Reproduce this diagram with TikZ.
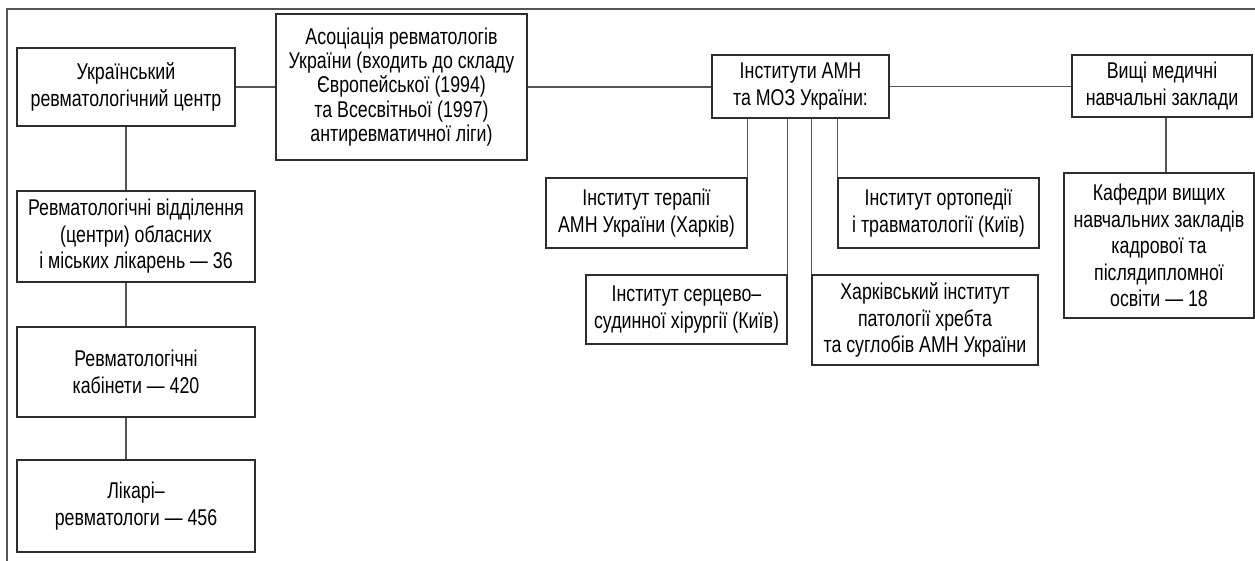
\documentclass[tikz,border=0pt]{standalone}
\usepackage{fontspec}
\setmainfont[FakeStretch=0.78]{Liberation Sans}
\usepackage{tikz}
\usetikzlibrary{calc}
\definecolor{BoxLine}{RGB}{45,45,45}
\definecolor{LinkGray}{RGB}{85,85,85}

\begin{document}
\begin{tikzpicture}[x=0.5pt, y=-0.5pt,
		box/.style={draw=BoxLine, line width=0.65pt, align=center, inner sep=0pt,
			font=\fontsize{11.4}{13.2}\selectfont},
		link/.style={draw=LinkGray, line width=0.6pt}]
		\useasboundingbox (0,0) rectangle (1255,561);
		\draw[LinkGray, line width=0.7pt] (1255,9) -- (7,9) -- (7,561);
		
		% top row
		\node[box, minimum width=109pt, minimum height=39pt] (ukr) at (126,87)
			{Український\\ревматологічний центр};
		\node[box, minimum width=125.5pt, minimum height=73pt,
			font=\fontsize{11.4}{12.2}\selectfont] (assoc) at (401.5,87)
			{Асоціація ревматологів\\України (входить до складу\\Європейської (1994)\\та Всесвітньої (1997)\\антиревматичної ліги)};
		\node[box, minimum width=88.5pt, minimum height=31.5pt] (inst) at (800.5,86.5)
			{Інститути АМН\\та МОЗ України:};
		\node[box, minimum width=90pt, minimum height=31pt] (vuz) at (1162,86)
			{Вищі медичні\\навчальні заклади};
		
		% left column
		\node[box, minimum width=119pt, minimum height=45.5pt] (viddil) at (136,236.5)
			{Ревматологічні відділення\\(центри) обласних\\і міських лікарень — 36};
		\node[box, minimum width=119pt, minimum height=45pt] (kabinet) at (136,372)
			{Ревматологічні\\кабінети — 420};
		\node[box, minimum width=119pt, minimum height=46pt] (likar) at (136,506)
			{Лікарі–\\ревматологи — 456};
		
		% institutes
		\node[box, minimum width=100.5pt, minimum height=35pt] (terap) at (646.5,213)
			{Інститут терапії\\АМН України (Харків)};
		\node[box, minimum width=100.5pt, minimum height=34.5pt] (serts) at (686.5,309.5)
			{Інститут серцево–\\судинної хірургії (Київ)};
		\node[box, minimum width=100.5pt, minimum height=35pt] (ortop) at (938.5,213)
			{Інститут ортопедії\\і травматології (Київ)};
		\node[box, minimum width=113pt, minimum height=45pt] (khark) at (925,320)
			{Харківський інститут\\патології хребта\\та суглобів АМН України};
		
		\node[box, minimum width=95pt, minimum height=72.5pt] (kafedr) at (1159,245.5)
			{Кафедри вищих\\навчальних закладів\\кадрової та\\післядипломної\\освіти — 18};
		
		% connectors
		\draw[link] (ukr.east) -- (ukr.east -| assoc.west);
		\draw[link] (assoc.east) -- (assoc.east -| inst.west);
		\draw[link] (inst.east) -- (inst.east -| vuz.west);
		\draw[link] (ukr.south) -- (ukr.south |- viddil.north);
		\draw[link] (ukr.south |- viddil.south) -- (ukr.south |- kabinet.north);
		\draw[link] (ukr.south |- kabinet.south) -- (ukr.south |- likar.north);
		\draw[link] (inst.south -| terap.east) -- (terap.north east);
		\draw[link] (inst.south -| serts.east) -- (serts.north east);
		\draw[link] (inst.south -| khark.west) -- (khark.north west);
		\draw[link] (inst.south -| ortop.west) -- (ortop.north west);
		\draw[link] ($(vuz.south)+(4,0)$) -- ($(vuz.south |- kafedr.north)+(4,0)$);
	\end{tikzpicture}
\end{document}
